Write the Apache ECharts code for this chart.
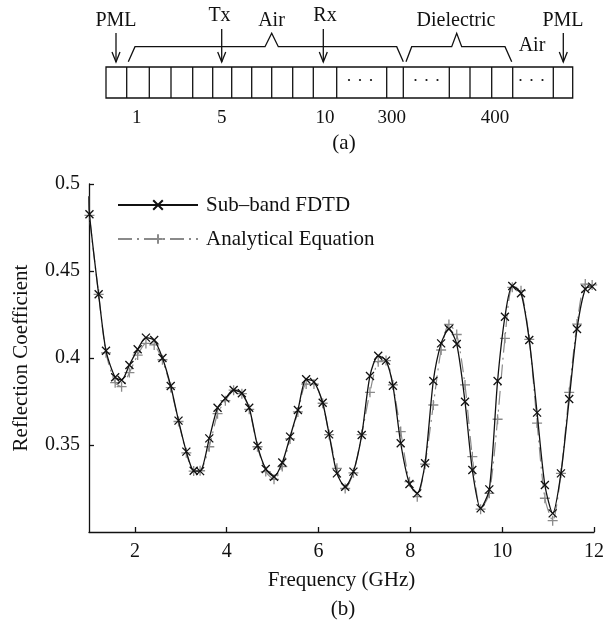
<!DOCTYPE html>
<html><head><meta charset="utf-8">
<script src="https://cdn.jsdelivr.net/npm/echarts@6/dist/echarts.min.js"></script>
<style>html,body{margin:0;padding:0;background:#fff}#c{width:607px;height:637px}</style>
</head><body><div id="c"></div>
<script>
// ---- data ----
const freq = [1.00, 1.01, 1.21, 1.37, 1.57, 1.71, 1.88, 2.06, 2.24, 2.42, 2.60, 2.78, 2.95, 3.12, 3.28, 3.42,
  3.62, 3.80, 3.97, 4.15, 4.33, 4.49, 4.67, 4.85, 5.03, 5.21, 5.38, 5.55, 5.73, 5.90, 6.09, 6.23, 6.40, 6.58,
  6.76, 6.94, 7.12, 7.30, 7.47, 7.62, 7.79, 7.98, 8.15, 8.32, 8.50, 8.67, 8.84, 9.01, 9.19, 9.35, 9.53, 9.72,
  9.90, 10.06, 10.22, 10.41, 10.59, 10.76, 10.93, 11.10, 11.28, 11.46, 11.63, 11.81, 11.96];
const fdtd = [0.493, 0.4826, 0.4366, 0.4042, 0.3889, 0.3874, 0.396, 0.405, 0.4117, 0.4103, 0.400, 0.3839, 0.364,
  0.3462, 0.3352, 0.335, 0.3538, 0.3714, 0.3768, 0.3816, 0.3797, 0.3714, 0.3496, 0.3362, 0.3318, 0.3399, 0.3548,
  0.3701, 0.3878, 0.3863, 0.3743, 0.3561, 0.3337, 0.326, 0.3347, 0.3557, 0.3897, 0.4013, 0.3985, 0.3841, 0.351,
  0.3276, 0.3222, 0.3395, 0.3868, 0.4084, 0.4167, 0.408, 0.3749, 0.3356, 0.3136, 0.3245, 0.3868, 0.4237, 0.4414,
  0.4372, 0.4103, 0.3686, 0.327, 0.3107, 0.3337, 0.3764, 0.4167, 0.4397, 0.441];
const analytical = [0.493, 0.482, 0.4366, 0.403, 0.3858, 0.3835, 0.3916, 0.4017, 0.4084, 0.4075, 0.399, 0.383, 0.3635,
  0.3455, 0.335, 0.3352, 0.349, 0.368, 0.3755, 0.3815, 0.3795, 0.3705, 0.349, 0.3347, 0.3303, 0.3376, 0.3535,
  0.369, 0.385, 0.385, 0.374, 0.356, 0.3366, 0.325, 0.334, 0.356, 0.3803, 0.3979, 0.3985, 0.3845, 0.3577,
  0.3289, 0.3203, 0.339, 0.373, 0.4046, 0.4193, 0.4135, 0.3845, 0.3433, 0.3131, 0.3222, 0.3648, 0.4113, 0.4406,
  0.4387, 0.4107, 0.3626, 0.3194, 0.3065, 0.3337, 0.3802, 0.4195, 0.4425, 0.442];
const seriesNames = ['Sub\u2013band FDTD', 'Analytical Equation'];
const xTicks = [2, 4, 6, 8, 10, 12];
const yTicks = [0.35, 0.4, 0.45, 0.5];
const cellLabels = ['1', '5', '10', '300', '400'];

// ---- styling ----
const FONT = "'Liberation Serif', 'DejaVu Serif', serif";
const INK = '#111';
const GRAY = '#8a8a8a';

function toData(vals) {
  return freq.map((f, i) => i === 0 ? { value: [f, vals[i]], symbol: 'none' } : [f, vals[i]]);
}

// ---- schematic (a) ----
const g = [];
const rowTop = 67, rowBot = 98;
const lineStyle = { stroke: INK, lineWidth: 1.3, fill: null };
g.push({ type: 'rect', shape: { x: 106, y: rowTop, width: 466.7, height: rowBot - rowTop }, style: { fill: 'none', stroke: INK, lineWidth: 1.3 } });
[126.7, 149.3, 171, 192.7, 212.7, 231.7, 251.7, 271.7, 292.7, 313.3, 336.7, 386.7, 403.3, 449.3, 470, 491.7, 512.7, 553.3]
  .forEach(x => g.push({ type: 'line', shape: { x1: x, y1: rowTop, x2: x, y2: rowBot }, style: lineStyle }));
[360, 426.5, 531.5].forEach(cx => [-11, 0, 11].forEach(d =>
  g.push({ type: 'circle', shape: { cx: cx + d, cy: 80, r: 1.1 }, style: { fill: INK } })));
function arrow(x, y1, y2) {
  g.push({ type: 'line', shape: { x1: x, y1: y1, x2: x, y2: y2 }, style: lineStyle });
  g.push({ type: 'polyline', shape: { points: [[x - 4, y2 - 10], [x, y2], [x + 4, y2 - 10]] }, style: { stroke: INK, lineWidth: 1.3, fill: 'none' } });
}
arrow(116, 33, 62); arrow(221.7, 29, 62); arrow(323.3, 29, 62); arrow(563.3, 33, 62);
g.push({ type: 'polyline', shape: { points: [[128.3, 61.7], [135, 46.7], [265, 46.7], [271.7, 33.3], [278.3, 46.7], [396.7, 46.7], [403.3, 61.7]] }, style: { stroke: INK, lineWidth: 1.3, fill: 'none' } });
g.push({ type: 'polyline', shape: { points: [[406, 61.7], [411.7, 46.7], [451.7, 46.7], [456.7, 33.3], [461.7, 46.7], [505, 46.7], [511.7, 61.7]] }, style: { stroke: INK, lineWidth: 1.3, fill: 'none' } });
function label(t, x, y, size) {
  g.push({ type: 'text', x: x, y: y, style: { text: t, font: (size || 20) + 'px ' + FONT, fill: INK, textAlign: 'center', textVerticalAlign: 'middle', align: 'center', verticalAlign: 'middle' } });
}
label('PML', 116, 21); label('Tx', 219.5, 15.5); label('Air', 271.5, 21); label('Rx', 325, 15.5);
label('Dielectric', 456, 21); label('PML', 563, 21); label('Air', 532, 45.5);
[136.7, 221.7, 325, 391.7, 495].forEach((x, i) => label(cellLabels[i], x, 118.5, 19));
label('(a)', 344, 143, 21);
label('(b)', 343, 609, 21);

const chart = echarts.init(document.getElementById('c'), null, { renderer: 'canvas' });
chart.setOption({
  animation: false,
  backgroundColor: '#fff',
  grid: { left: 89, right: 10, top: 184, bottom: 105, containLabel: false },
  legend: {
    orient: 'vertical', left: 112, top: 189, itemWidth: 80, itemHeight: 12, itemGap: 12,
    data: seriesNames,
    textStyle: { fontFamily: FONT, fontSize: 21, color: INK, lineHeight: 22, padding: [0, 0, 0, 3] }
  },
  xAxis: {
    type: 'value', min: 1, max: 12,
    name: 'Frequency (GHz)', nameLocation: 'middle', nameGap: 38,
    nameTextStyle: { fontFamily: FONT, fontSize: 21, color: INK },
    axisLine: { lineStyle: { color: INK, width: 1.3 } },
    axisTick: { show: true, inside: true, length: 5, customValues: xTicks, lineStyle: { color: INK, width: 1.3 } },
    axisLabel: { customValues: xTicks, margin: 10, fontFamily: FONT, fontSize: 20, color: INK },
    splitLine: { show: false }
  },
  yAxis: {
    type: 'value', min: 0.3, max: 0.5,
    name: 'Reflection Coefficient', nameLocation: 'middle', nameGap: 57, nameRotate: 90,
    nameTextStyle: { fontFamily: FONT, fontSize: 21, color: INK },
    axisLine: { show: true, lineStyle: { color: INK, width: 1.3 } },
    axisTick: { show: true, inside: true, length: 5, customValues: yTicks, lineStyle: { color: INK, width: 1.3 } },
    axisLabel: { customValues: yTicks, margin: 9, fontFamily: FONT, fontSize: 20, color: INK,
      formatter: v => String(parseFloat(Number(v).toFixed(2))) },
    splitLine: { show: false }
  },
  series: [
    {
      name: seriesNames[1], type: 'line', data: toData(analytical), z: 2,
      symbol: 'path://M5,0L5,10M0,5L10,5', symbolSize: 10, showSymbol: true,
      lineStyle: { color: GRAY, width: 1.2, type: [14, 5, 2, 5] },
      itemStyle: { color: GRAY, borderColor: GRAY, borderWidth: 1.3 },
      smooth: 0.25
    },
    {
      name: seriesNames[0], type: 'line', data: toData(fdtd), z: 3,
      symbol: 'path://M0,0L10,10M0,10L10,0', symbolSize: 8, showSymbol: true,
      lineStyle: { color: INK, width: 1.3 },
      itemStyle: { color: INK, borderColor: INK, borderWidth: 1.3 },
      smooth: 0.25
    }
  ],
  graphic: g
});
</script></body></html>
